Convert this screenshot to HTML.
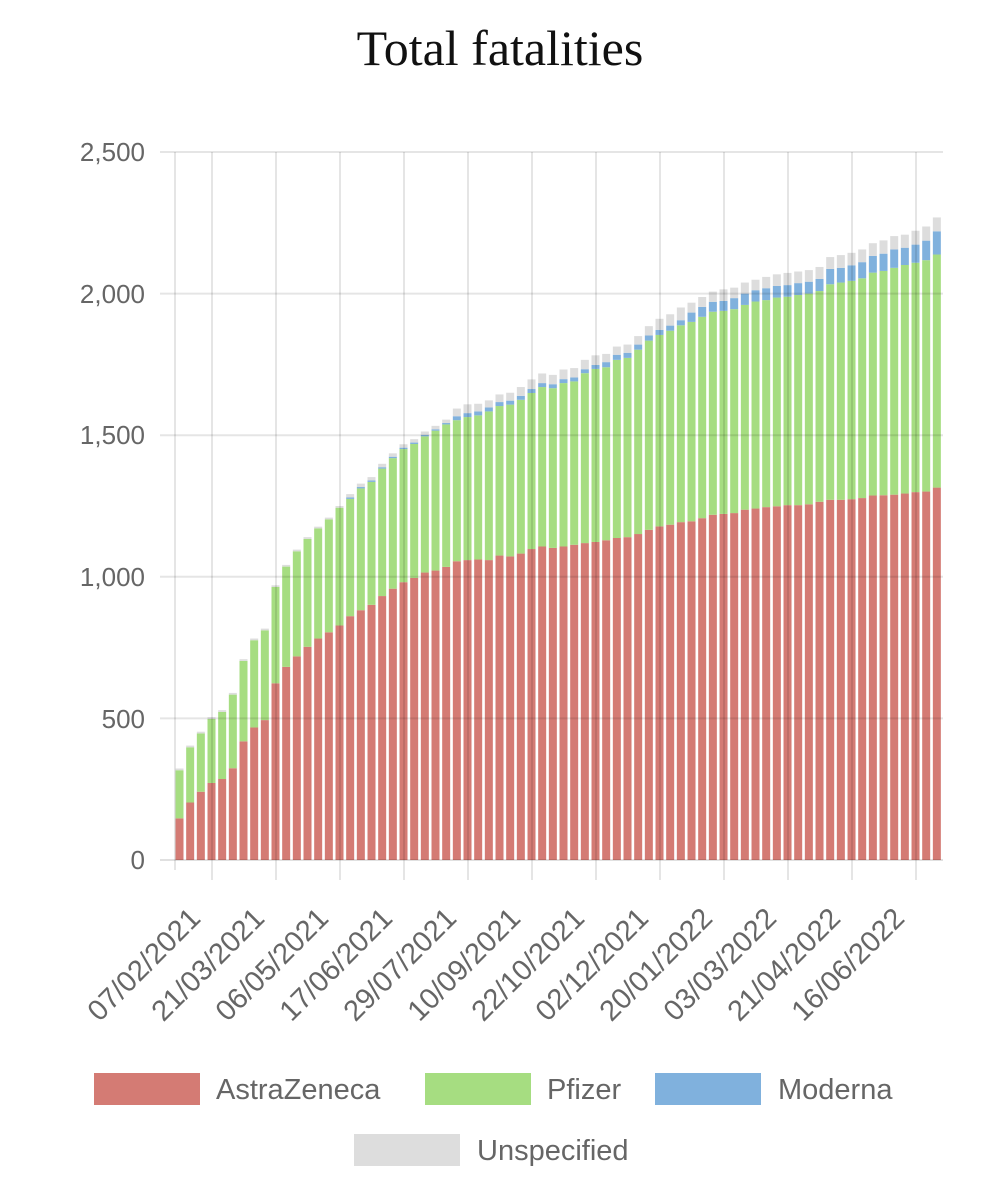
<!DOCTYPE html>
<html><head><meta charset="utf-8"><style>
html,body{margin:0;padding:0;background:#fff;}
svg{display:block;}
</style></head><body>
<svg id="c" width="1001" height="1199" xmlns="http://www.w3.org/2000/svg" font-family="Liberation Sans, sans-serif">
<text x="500" y="65" text-anchor="middle" font-family="Liberation Serif, serif" font-size="50" fill="#111">Total fatalities</text>
<g id="bars"></g>
<g id="grid"></g>
<g fill="#666" font-size="26" text-anchor="end">
<text x="145" y="161">2,500</text>
<text x="145" y="303">2,000</text>
<text x="145" y="444">1,500</text>
<text x="145" y="586">1,000</text>
<text x="145" y="728">500</text>
<text x="145" y="869">0</text>
</g>
<g id="xl" fill="#666" font-size="29" text-anchor="end"></g>
<g font-size="29" fill="#666">
<rect x="94" y="1073" width="106" height="32" fill="#d47b74"/><text x="216" y="1099">AstraZeneca</text>
<rect x="425" y="1073" width="106" height="32" fill="#a6dd81"/><text x="547" y="1099">Pfizer</text>
<rect x="655" y="1073" width="106" height="32" fill="#80b1dd"/><text x="778" y="1099">Moderna</text>
<rect x="354" y="1134" width="106" height="32" fill="#dddddd"/><text x="477" y="1160">Unspecified</text>
</g>
</svg>
<script>
var tot=[323,404,453,504,529,590,709,782,817,970,1042,1096,1140,1177,1209,1250,1292,1329,1352,1399,1436,1468,1486,1513,1533,1555,
1594,1609,1611,1623,1644,1650,1670,1697,1718,1713,1732,1737,1766,1782,1787,1813,1820,1850,1885,1911,1927,1951,
1968,1988,2007,2015,2021,2039,2049,2059,2068,2073,2078,2083,2094,2129,2136,2144,2156,2178,2188,2203,2208,2222,2237,2269];
var red=[147,203,241,272,286,324,419,468,494,624,682,719,753,782,804,828,861,882,901,932,958,981,996,1015,1022,1035,
1055,1059,1061,1059,1075,1072,1082,1098,1107,1102,1107,1113,1119,1123,1129,1137,1140,1151,1166,1178,1184,1193,
1196,1207,1219,1222,1225,1237,1241,1246,1249,1253,1253,1256,1265,1272,1272,1274,1278,1287,1288,1290,1294,1299,1301,1315];
var gt=[];for(var i=0;i<26;i++)gt.push(tot[i]-(i<16?6:17));
gt=gt.concat([1553,1564,1570,1584,1603,1608,1625,1649,1670,1666,1684,1690,1719,1734,1740,1766,1773,1802,1834,1854,1869,1888,
1900,1918,1936,1939,1945,1960,1972,1977,1986,1989,1995,2000,2009,2033,2039,2045,2054,2074,2080,2091,2101,2109,2118,2138]);
var bt=[];
for(var i=0;i<72;i++){var b;
 if(i<16)b=gt[i];else if(i<26)b=gt[i]+5;else if(i<48)b=gt[i]+(i<40?14:18);
 else{var bl=[1933,1953,1971,1974,1984,2000,2012,2019,2027,2030,2037,2042,2052,2087,2091,2100,2111,2133,2141,2156,2162,2173,2187,2220];b=bl[i-48];}
 bt.push(b);}
var S=0.2832,B=860,ns="http://www.w3.org/2000/svg";
function r(g,x,y,w,h,f){var e=document.createElementNS(ns,"rect");e.setAttribute("x",x);e.setAttribute("y",y);e.setAttribute("width",w);e.setAttribute("height",h);e.setAttribute("fill",f);g.appendChild(e);}
function l(g,x1,y1,x2,y2,s){var e=document.createElementNS(ns,"line");e.setAttribute("x1",x1);e.setAttribute("y1",y1);e.setAttribute("x2",x2);e.setAttribute("y2",y2);e.setAttribute("stroke",s);e.setAttribute("stroke-width",2);g.appendChild(e);}
var bg=document.getElementById("bars");
for(var i=0;i<72;i++){var x=175.5+i*10.667,w=8;
 var yR=B-red[i]*S,yG=B-gt[i]*S,yB=B-bt[i]*S,yT=B-tot[i]*S;
 r(bg,x,yR,w,B-yR,"#d47b74");r(bg,x,yG,w,yR-yG,"#a6dd81");
 if(yB<yG)r(bg,x,yB,w,yG-yB,"#80b1dd");
 r(bg,x,yT,w,yB-yT,"#dddddd");}
var gg=document.getElementById("grid");
for(var k=1;k<=5;k++){var y=B-k*500*S;l(gg,160,y,943,y,"rgba(0,0,0,0.1)");}
l(gg,160,B,943,B,"rgba(0,0,0,0.12)");
l(gg,175,152,175,870,"rgba(0,0,0,0.1)");
var labs=["07/02/2021","21/03/2021","06/05/2021","17/06/2021","29/07/2021","10/09/2021","22/10/2021","02/12/2021","20/01/2022","03/03/2022","21/04/2022","16/06/2022"];
var xl=document.getElementById("xl");
for(var k=0;k<12;k++){var x=212+k*64;l(gg,x,152,x,880,"rgba(0,0,0,0.1)");
 var ax=x-10,ay=920;
 var t=document.createElementNS(ns,"text");t.setAttribute("x",ax);t.setAttribute("y",ay);t.setAttribute("transform","rotate(-45 "+ax+" "+ay+")");t.textContent=labs[k];xl.appendChild(t);}
</script>
</body></html>
